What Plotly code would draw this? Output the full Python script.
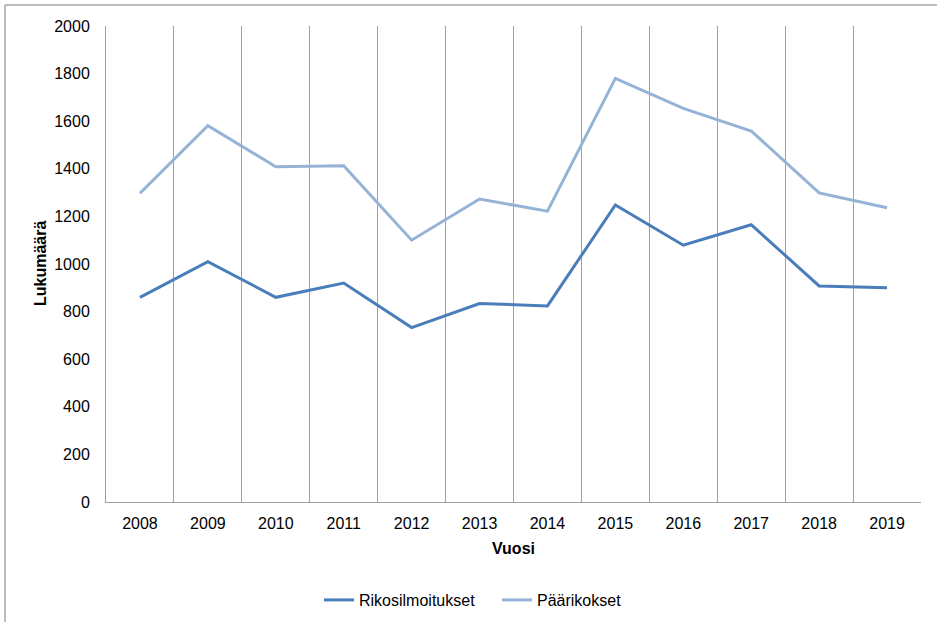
import plotly.graph_objects as go

years = [2008, 2009, 2010, 2011, 2012, 2013, 2014, 2015, 2016, 2017, 2018, 2019]
rikosilmoitukset = [860, 1010, 860, 920, 733, 834, 824, 1248, 1079, 1165, 908, 900]
paarikokset = [1297, 1581, 1409, 1413, 1100, 1273, 1222, 1780, 1654, 1559, 1299, 1236]
y_ticks = [0, 200, 400, 600, 800, 1000, 1200, 1400, 1600, 1800, 2000]

FONT = "Liberation Sans, Arial, sans-serif"
W, H = 937, 622
L, R, T, B = 106, 16, 26, 120
PW, PH = W - L - R, H - T - B

def px_x(p):
    return (p - L) / PW

def px_y(p):
    return (H - B - p) / PH

fig = go.Figure()
fig.add_trace(go.Scatter(x=years, y=rikosilmoitukset, mode="lines", name="Rikosilmoitukset",
                         line=dict(color="#4A7EBB", width=3)))
fig.add_trace(go.Scatter(x=years, y=paarikokset, mode="lines", name="Päärikokset",
                         line=dict(color="#95B3D7", width=3)))

boundaries = [years[0] - 0.5] + [y + 0.5 for y in years]

fig.update_layout(
    width=W, height=H,
    margin=dict(l=L, r=R, t=T, b=B, autoexpand=False),
    paper_bgcolor="white", plot_bgcolor="white",
    font=dict(family=FONT, size=16, color="black"),
    showlegend=True,
    legend=dict(orientation="h", x=px_x(497), xanchor="center", y=px_y(600), yanchor="middle",
                font=dict(family=FONT, size=16), bgcolor="rgba(0,0,0,0)", itemwidth=30,
                entrywidth=133, entrywidthmode="pixels"),
    xaxis=dict(range=[years[0] - 0.5, years[-1] + 0.5], tickvals=years, ticktext=[str(y) for y in years],
               showgrid=False, zeroline=False, showline=True, linecolor="#a0a0a0", linewidth=1,
               ticks="", ticklabelstandoff=7, automargin=False, tickfont=dict(family=FONT, size=16),
               minor=dict(tickvals=boundaries, showgrid=True, gridcolor="#a0a0a0", gridwidth=1, ticks="")),
    yaxis=dict(range=[0, 2000], tickvals=y_ticks, showgrid=False, zeroline=False,
               showline=True, linecolor="#a0a0a0", linewidth=1, ticks="", automargin=False,
               ticklabelstandoff=12, tickfont=dict(family=FONT, size=16)),
    annotations=[
        dict(text="<b>Lukumäärä</b>", xref="paper", yref="paper", x=px_x(40), y=0.5,
             textangle=-90, showarrow=False, font=dict(family=FONT, size=16), xanchor="center", yanchor="middle"),
        dict(text="<b>Vuosi</b>", xref="paper", yref="paper", x=0.5, y=px_y(548),
             showarrow=False, font=dict(family=FONT, size=16), xanchor="center", yanchor="middle"),
    ],
    shapes=[
        dict(type="line", xref="paper", yref="paper", x0=px_x(5), x1=px_x(W + 5), y0=px_y(5), y1=px_y(5),
             line=dict(color="#a6a6a6", width=1.5)),
        dict(type="line", xref="paper", yref="paper", x0=px_x(5), x1=px_x(5), y0=px_y(5), y1=px_y(H + 5),
             line=dict(color="#a6a6a6", width=1.5)),
    ],
)

fig.write_html("out.html", config={"displayModeBar": False},
               post_script="document.body.style.margin='0px';document.body.style.overflow='hidden';")
